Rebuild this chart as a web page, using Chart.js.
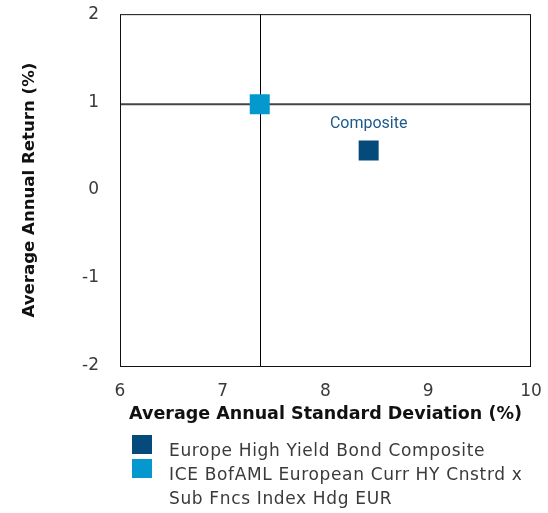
<!DOCTYPE html>
<html><head><meta charset="utf-8">
<script src="https://cdn.jsdelivr.net/npm/chart.js"></script>
<style>
html,body{margin:0;padding:0;background:#fff;}
#wrap{position:relative;width:548px;height:513px;overflow:hidden;}
canvas{position:absolute;left:0;top:0;}
#legend{position:absolute;left:0;top:0;width:548px;height:513px;font-family:"DejaVu Sans";font-size:17px;color:#3a3a3a;letter-spacing:0.65px;}
.sw{position:absolute;left:132px;width:20px;height:19px;}
.lt{position:absolute;left:169px;white-space:nowrap;line-height:24px;}
</style></head>
<body><div id="wrap"><canvas id="c" width="548" height="513"></canvas><div id="legend"></div></div>
<script>
const seriesNames = ["Europe High Yield Bond Composite", "ICE BofAML European Curr HY Cnstrd x Sub Fncs Index Hdg EUR"];
const legendLines = [["Europe High Yield Bond Composite"], ["ICE BofAML European Curr HY Cnstrd x", "Sub Fncs Index Hdg EUR"]];
const seriesColors = ["#044b7b", "#0498cf"];
const stdDev = [8.42, 7.36];
const annReturn = [0.45, 0.975];
const pointLabels = ["Composite", ""];
const xTicks = [6, 7, 8, 9, 10];
const yTicks = [2, 1, 0, -1, -2];
const benchIndex = 1;
const xTitle = "Average Annual Standard Deviation (%)";
const yTitle = "Average Annual Return (%)";

const framePlugin = {
  id: 'frame',
  beforeDatasetsDraw(chart) {
    const {ctx, chartArea: a, scales} = chart;
    ctx.save();
    const bx = Math.round(scales.x.getPixelForValue(stdDev[benchIndex])) + 0.5;
    const by = scales.y.getPixelForValue(annReturn[benchIndex]);
    ctx.strokeStyle = '#444';
    ctx.lineWidth = 2;
    ctx.beginPath(); ctx.moveTo(a.left, by); ctx.lineTo(a.right, by); ctx.stroke();
    ctx.strokeStyle = '#000';
    ctx.lineWidth = 1;
    ctx.beginPath(); ctx.moveTo(bx, a.top); ctx.lineTo(bx, a.bottom); ctx.stroke();
    ctx.strokeStyle = '#111';
    ctx.strokeRect(a.left + 0.5, a.top + 0.5, a.right - a.left - 1, a.bottom - a.top);
    ctx.restore();
  },
  afterDatasetsDraw(chart) {
    const {ctx} = chart;
    ctx.save();
    ctx.font = '16px Roboto';
    ctx.textAlign = 'center';
    ctx.textBaseline = 'middle';
    pointLabels.forEach((lbl, i) => {
      if (!lbl) return;
      const pt = chart.getDatasetMeta(i).data[0];
      ctx.fillStyle = '#1d5a8a';
      ctx.fillText(lbl, pt.x, pt.y - 26);
    });
    ctx.restore();
  }
};

const zeroPad = s => { s.paddingTop = 0; s.paddingBottom = 0; s.paddingLeft = 0; s.paddingRight = 0; };

new Chart(document.getElementById('c'), {
  type: 'scatter',
  data: {
    datasets: seriesNames.map((n, i) => ({
      label: n,
      data: [{x: stdDev[i], y: annReturn[i]}],
      backgroundColor: seriesColors[i],
      borderColor: seriesColors[i],
      borderWidth: 0,
      pointStyle: 'rect',
      pointRadius: 14.14,
      pointHoverRadius: 14.14
    }))
  },
  options: {
    responsive: false,
    animation: false,
    events: [],
    layout: {padding: {left: 0, right: 17, top: 13, bottom: 0}},
    plugins: {legend: {display: false}, tooltip: {enabled: false}},
    scales: {
      x: {
        type: 'linear', min: xTicks[0], max: xTicks[xTicks.length - 1],
        afterBuildTicks: s => { s.ticks = xTicks.map(v => ({value: v})); },
        afterFit: s => { s.height = 147; zeroPad(s); },
        grid: {display: false}, border: {display: false},
        ticks: {padding: 7, color: '#3a3a3a', font: {family: 'DejaVu Sans', size: 17}},
        title: {display: true, text: xTitle, color: '#111', font: {family: 'DejaVu Sans', weight: 'bold', size: 17.5}, padding: {top: 0, bottom: 88.5}}
      },
      y: {
        type: 'linear', min: yTicks[yTicks.length - 1], max: yTicks[0],
        afterBuildTicks: s => { s.ticks = yTicks.slice().reverse().map(v => ({value: v})); },
        afterFit: s => { s.width = 120; zeroPad(s); },
        grid: {display: false}, border: {display: false},
        ticks: {padding: 13, color: '#3a3a3a', font: {family: 'DejaVu Sans', size: 17}},
        title: {display: true, text: yTitle, color: '#111', font: {family: 'DejaVu Sans', weight: 'bold', size: 16.6}, padding: {top: 20, bottom: 0}}
      }
    }
  },
  plugins: [framePlugin]
});

const leg = document.getElementById('legend');
const swTops = [434.5, 458.5];
const textTops = [438, 462];
legendLines.forEach((lines, i) => {
  const sw = document.createElement('div');
  sw.className = 'sw';
  sw.style.top = swTops[i] + 'px';
  sw.style.background = seriesColors[i];
  leg.appendChild(sw);
  const t = document.createElement('div');
  t.className = 'lt';
  t.style.top = textTops[i] + 'px';
  t.innerHTML = lines.map(l => l.replace(/&/g, '&amp;')).join('<br>');
  leg.appendChild(t);
});
</script>
</body></html>
